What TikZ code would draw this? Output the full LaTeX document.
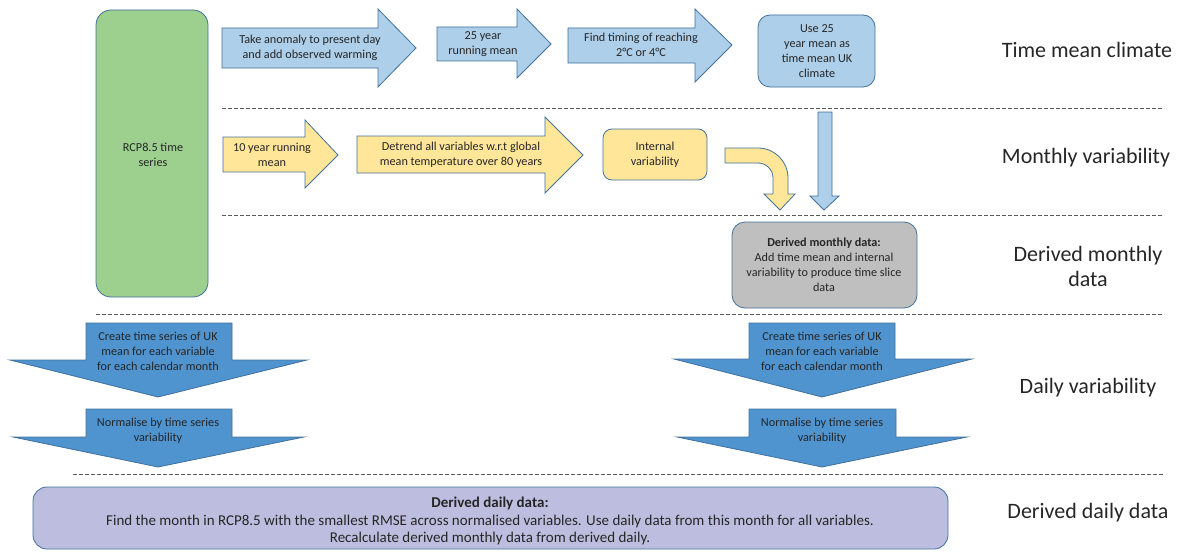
\documentclass[tikz,border=0pt]{standalone}
\usepackage{fontspec}
\setmainfont{Carlito}
\definecolor{bordc}{HTML}{41719C}
\definecolor{greenc}{HTML}{9DCF8F}
\definecolor{lblue}{HTML}{ADCFEA}
\definecolor{yellc}{HTML}{FFE699}
\definecolor{grayc}{HTML}{BFBFBF}
\definecolor{dblue}{HTML}{4F93CF}
\definecolor{lavc}{HTML}{BDBEDF}
\definecolor{txtc}{HTML}{262626}
\definecolor{dashc}{HTML}{595959}
\begin{document}
\begin{tikzpicture}[x=1pt,y=-1pt,
  shp/.style={draw=bordc, line width=0.8pt},
  txt/.style={text=txtc, font=\fontsize{12.2}{15}\selectfont, align=center, inner sep=0pt},
  lab/.style={text=txtc, font=\fontsize{22}{25}\selectfont, align=center, inner sep=0pt},
  sep/.style={draw=dashc, line width=0.7pt, dash pattern=on 3.5pt off 2.5pt}]
\useasboundingbox (0,0) rectangle (1182,551);

% separators
\coordinate (s1a) at (222,108); \coordinate (s1b) at (1164,108);
\coordinate (s2a) at (222,215); \coordinate (s2b) at (1164,215);
\coordinate (s3a) at (96,314);  \coordinate (s3b) at (1164,314);
\coordinate (s4a) at (73,474);  \coordinate (s4b) at (1164,474);
\draw[sep] (s1a) -- (s1b);
\draw[sep] (s2a) -- (s2b);
\draw[sep] (s3a) -- (s3b);
\draw[sep] (s4a) -- (s4b);

% RCP box
\draw[shp, fill=greenc, rounded corners=15] (96,10) rectangle (208,297);
\node[txt] (rcp) at (153,155) {RCP8.5 time\\series};

% time mean row
\draw[shp, fill=lblue] (222,28) -- (378,28) -- (378,9) -- (416,48) -- (378,87) -- (378,68) -- (222,68) -- cycle;
\node[txt] (anom) at (310,48) {Take anomaly to present day\\and add observed warming};
\draw[shp, fill=lblue] (437,27) -- (517,27) -- (517,9) -- (551,44) -- (517,78) -- (517,61) -- (437,61) -- cycle;
\node[txt] (run25) at (483,44) {25 year\\running mean};
\draw[shp, fill=lblue] (568,28) -- (695,28) -- (695,9) -- (732,45) -- (695,82) -- (695,63) -- (568,63) -- cycle;
\node[txt] (timing) at (641,45) {Find timing of reaching\\2°C or 4°C};
\draw[shp, fill=lblue, rounded corners=12] (758,15) rectangle (875,87);
\node[txt] (use25) at (817,51) {Use 25\\year mean as\\time mean UK\\climate};

% monthly row
\draw[shp, fill=yellc] (223,137) -- (305,137) -- (305,120) -- (338,155) -- (305,188) -- (305,172) -- (223,172) -- cycle;
\node[txt] (run10) at (272,155) {10 year running\\mean};
\draw[shp, fill=yellc] (357,136) -- (545,136) -- (545,117) -- (583,155) -- (545,193) -- (545,173) -- (357,173) -- cycle;
\node[txt] (detr) at (461,155) {Detrend all variables w.r.t global\\mean temperature over 80 years};
\draw[shp, fill=yellc, rounded corners=9] (603,129) rectangle (707,180);
\node[txt] (intv) at (655,155) {Internal\\variability};
\draw[shp, fill=yellc] (725,148) -- (758,148) arc[start angle=-90, end angle=0, radius=30] -- (788,194) -- (795,194) -- (780,210) -- (764,194) -- (773,194) -- (773,178) arc[start angle=0, end angle=-90, radius=15] -- (725,163) -- cycle;
\draw[shp, fill=lblue] (818,112) -- (832,112) -- (832,196) -- (839,196) -- (824,210) -- (810,196) -- (818,196) -- cycle;

% derived monthly
\draw[shp, fill=grayc, rounded corners=13] (732,222) rectangle (917,308);
\node[txt] (dmon) at (824,265) {\textbf{Derived monthly data:}\\Add time mean and internal\\variability to produce time slice\\data};

% daily row
\draw[shp, fill=dblue] (86,323) -- (232,323) -- (232,360) -- (307,360) -- (158,397) -- (10,360) -- (86,360) -- cycle;
\node[txt] (cts1) at (158,351) {Create time series of UK\\mean for each variable\\for each calendar month};
\draw[shp, fill=dblue] (86,409) -- (232,409) -- (232,437) -- (304,437) -- (158,467) -- (13,437) -- (86,437) -- cycle;
\node[txt] (nrm1) at (158,431) {Normalise by time series\\variability};
\draw[shp, fill=dblue] (749,323) -- (895,323) -- (895,359) -- (972,359) -- (822,397) -- (674,359) -- (749,359) -- cycle;
\node[txt] (cts2) at (822,351) {Create time series of UK\\mean for each variable\\for each calendar month};
\draw[shp, fill=dblue] (749,409) -- (896,409) -- (896,437) -- (967,437) -- (822,467) -- (677,437) -- (749,437) -- cycle;
\node[txt] (nrm2) at (822,431) {Normalise by time series\\variability};

% derived daily
\draw[shp, fill=lavc, rounded corners=14] (33,487) rectangle (948,549);
\node[txt, font=\fontsize{15}{17.5}\selectfont] (dday) at (490,521) {\textbf{Derived daily data:}\\Find the month in RCP8.5 with the smallest RMSE across normalised variables. Use daily data from this month for all variables.\\Recalculate derived monthly data from derived daily.};

% right labels
\node[lab] (l1) at (1087,50) {Time mean climate};
\node[lab] (l2) at (1086,158) {Monthly variability};
\node[lab] (l3) at (1088,266) {Derived monthly\\data};
\node[lab] (l4) at (1088,388) {Daily variability};
\node[lab] (l5) at (1088,513) {Derived daily data};
\end{tikzpicture}
\end{document}
